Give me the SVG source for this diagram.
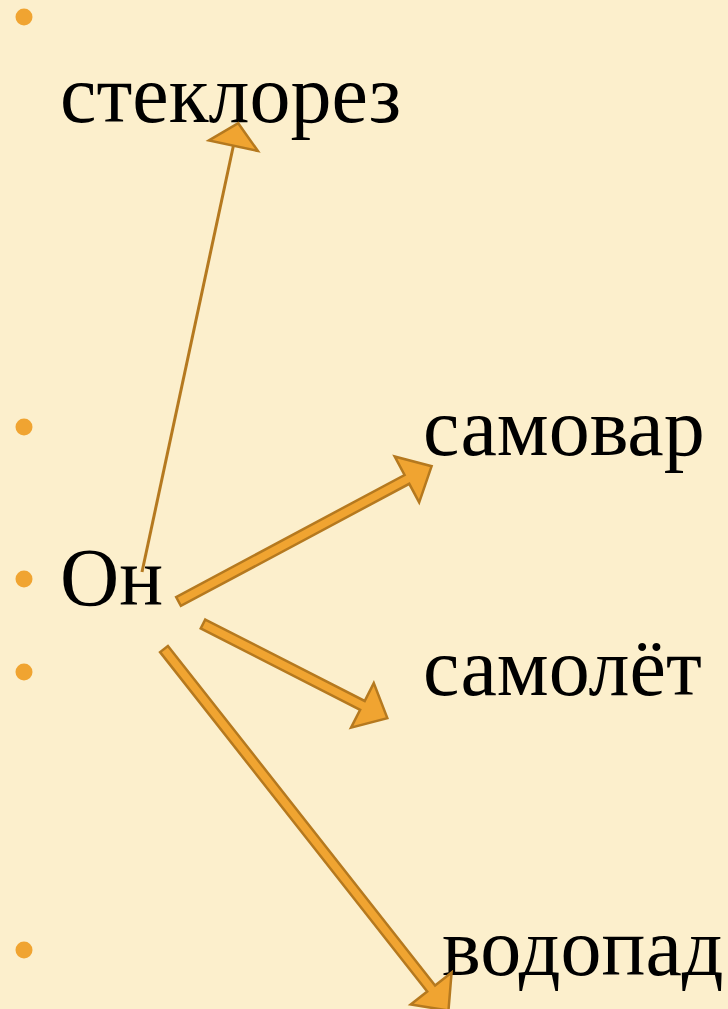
<svg xmlns="http://www.w3.org/2000/svg" width="728" height="1009" viewBox="0 0 728 1009">
<style>
.bg{fill:#FCEFCC}
.bul{fill:#F0A431}
.t{font-family:"Liberation Serif","Times New Roman",serif;font-size:82px;fill:#000}
.arr{fill:#F0A431;stroke:#B5791F;stroke-width:2.5;stroke-linejoin:miter}
.thin{stroke:#B5791F;stroke-width:3;fill:none}
</style>
<rect class="bg" x="0" y="0" width="728" height="1009"/>
<g id="bullets">
<circle class="bul" cx="24" cy="17" r="8.5"/>
<circle class="bul" cx="24" cy="427" r="8.5"/>
<circle class="bul" cx="24" cy="579" r="8.5"/>
<circle class="bul" cx="24" cy="672" r="8.5"/>
<circle class="bul" cx="24" cy="950" r="8.5"/>
</g>
<g id="node-steklorez"><text class="t" x="60" y="122">стеклорез</text></g>
<g id="node-samovar"><text class="t" x="423" y="455">самовар</text></g>
<g id="node-on"><text class="t" x="60" y="605">Он</text></g>
<g id="node-samolet"><text class="t" x="423" y="695">самолёт</text></g>
<g id="node-vodopad"><text class="t" x="442" y="975">водопад</text></g>
<g id="connectors">
<g transform="translate(142,572) rotate(-77.9)">
<line class="thin" x1="0" y1="0" x2="437" y2="0"/>
<polygon class="arr" points="436,-25 459,0 436,25"/>
</g>
<g transform="translate(178.5,601.5) rotate(-28.13)">
<polygon class="arr" points="0,-5 259,-5 259,-26 287,0 259,26 259,5 0,5"/>
</g>
<g transform="translate(203,624) rotate(27.06)">
<polygon class="arr" points="0,-5 179,-5 179,-25 207,0 179,25 179,5 0,5"/>
</g>
<g transform="translate(164,649) rotate(51.8)">
<polygon class="arr" points="0,-5 432,-5 432,-26 460,0 432,26 432,5 0,5"/>
</g>
</g>
</svg>
